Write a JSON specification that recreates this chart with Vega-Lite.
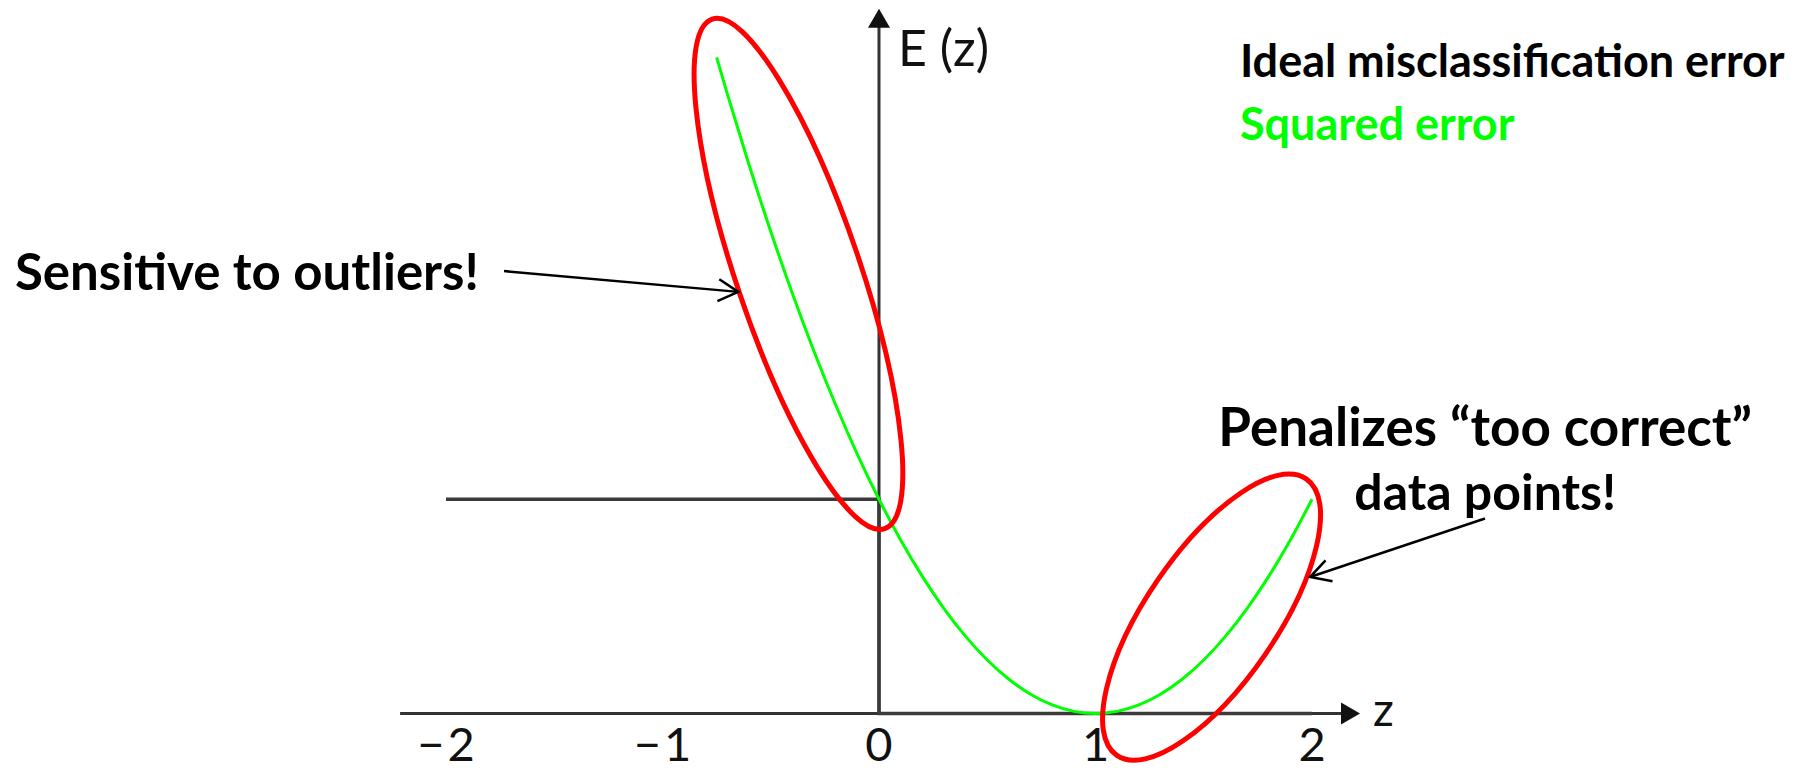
{
  "$schema": "https://vega.github.io/schema/vega-lite/v6.json",
  "autosize": {"type": "fit", "contains": "padding"},
  "width": 1795,
  "height": 771,
  "padding": 0,
  "background": "white",
  "config": {"view": {"stroke": null}},
  "datasets": {
    "squared": [
      {"z": -0.75, "E": 3.0625}, {"z": -0.7, "E": 2.89}, {"z": -0.6, "E": 2.56},
      {"z": -0.5, "E": 2.25}, {"z": -0.4, "E": 1.96}, {"z": -0.3, "E": 1.69},
      {"z": -0.2, "E": 1.44}, {"z": -0.1, "E": 1.21}, {"z": 0.0, "E": 1.0},
      {"z": 0.1, "E": 0.81}, {"z": 0.2, "E": 0.64}, {"z": 0.3, "E": 0.49},
      {"z": 0.4, "E": 0.36}, {"z": 0.5, "E": 0.25}, {"z": 0.6, "E": 0.16},
      {"z": 0.7, "E": 0.09}, {"z": 0.8, "E": 0.04}, {"z": 0.9, "E": 0.01},
      {"z": 1.0, "E": 0.0}, {"z": 1.1, "E": 0.01}, {"z": 1.2, "E": 0.04},
      {"z": 1.3, "E": 0.09}, {"z": 1.4, "E": 0.16}, {"z": 1.5, "E": 0.25},
      {"z": 1.6, "E": 0.36}, {"z": 1.7, "E": 0.49}, {"z": 1.8, "E": 0.64},
      {"z": 1.9, "E": 0.81}, {"z": 2.0, "E": 1.0}
    ],
    "ideal": [
      {"z": -2.0, "E": 1},
      {"z": 0.0, "E": 0},
      {"z": 2.0, "E": 0}
    ],
    "axisLines": [
      {"axis": "z", "z": -2.212, "E": 0, "z2": 2.178, "E2": 0},
      {"axis": "E", "z": 0, "E": 0, "z2": 0, "E2": 3.245}
    ],
    "axisHeads": [
      {"axis": "z", "z": 2.178, "E": 0},
      {"axis": "E", "z": 0, "E": 3.245}
    ],
    "ticks": [
      {"z": -2, "E": -0.222, "label": "−\u200a2"},
      {"z": -1, "E": -0.222, "label": "−\u200a1"},
      {"z": 0, "E": -0.222, "label": "0"},
      {"z": 1, "E": -0.222, "label": "1"},
      {"z": 2, "E": -0.222, "label": "2"}
    ],
    "axisTitles": [
      {"z": 2.33, "E": -0.058, "label": "z", "align": "center"},
      {"z": 0.088, "E": 3.021, "label": "E (z)", "align": "left"}
    ],
    "legendText": [
      {"z": 1.667, "E": 2.97, "label": "Ideal misclassification error", "series": "ideal"},
      {"z": 1.667, "E": 2.679, "label": "Squared error", "series": "squared"}
    ],
    "rings": [
      {"name": "outliers", "z": -0.372, "E": 2.052},
      {"name": "too correct", "z": 1.536, "E": 0.45}
    ],
    "pointers": [
      {"name": "outliers", "z": -1.732, "E": 2.065, "z2": -0.65, "E2": 1.968},
      {"name": "too correct", "z": 2.799, "E": 0.91, "z2": 1.991, "E2": 0.637}
    ],
    "notes": [
      {"name": "outliers", "z": -3.991, "E": 1.977, "label": "Sensitive to outliers!"},
      {"name": "too correct", "z": 2.8, "E": 1.247, "label": "Penalizes “too correct”", "line": 1},
      {"name": "too correct", "z": 2.8, "E": 0.951, "label": "data points!", "line": 2}
    ]
  },
  "encoding": {
    "x": {"field": "z", "type": "quantitative", "axis": null,
          "scale": {"domain": [-4.06, 4.2309], "nice": false, "zero": false}},
    "y": {"field": "E", "type": "quantitative", "axis": null,
          "scale": {"domain": [-0.2309, 3.3303], "nice": false, "zero": false}}
  },
  "layer": [
    {
      "data": {"name": "axisLines"},
      "mark": {"type": "rule", "color": "#333333", "strokeWidth": 3},
      "encoding": {"x2": {"field": "z2"}, "y2": {"field": "E2"}}
    },
    {
      "data": {"name": "axisHeads"},
      "transform": [{"filter": "datum.axis === 'z'"}],
      "mark": {"type": "point", "shape": "triangle-right", "size": 484, "filled": true, "color": "#111111", "opacity": 1}
    },
    {
      "data": {"name": "axisHeads"},
      "transform": [{"filter": "datum.axis === 'E'"}],
      "mark": {"type": "point", "shape": "triangle-up", "size": 484, "filled": true, "color": "#111111", "opacity": 1}
    },
    {
      "data": {"name": "ideal"},
      "mark": {"type": "line", "interpolate": "step-after", "color": "#3a3a3a", "strokeWidth": 3.5}
    },
    {
      "data": {"name": "squared"},
      "mark": {"type": "line", "interpolate": "monotone", "color": "#00ff00", "strokeWidth": 3}
    },
    {
      "data": {"name": "ticks"},
      "mark": {"type": "text", "font": "Lato", "fontSize": 47, "align": "center", "baseline": "alphabetic", "color": "#111111"},
      "encoding": {"text": {"field": "label"}}
    },
    {
      "data": {"name": "axisTitles"},
      "transform": [{"filter": "datum.align === 'center'"}],
      "mark": {"type": "text", "font": "Lato", "fontSize": 46, "align": "center", "baseline": "alphabetic", "color": "#111111"},
      "encoding": {"text": {"field": "label"}}
    },
    {
      "data": {"name": "axisTitles"},
      "transform": [{"filter": "datum.align === 'left'"}],
      "mark": {"type": "text", "font": "Lato", "fontSize": 50, "align": "left", "baseline": "alphabetic", "color": "#111111"},
      "encoding": {"text": {"field": "label"}}
    },
    {
      "data": {"name": "legendText"},
      "mark": {"type": "text", "font": "Lato", "fontWeight": "bold", "fontSize": 45, "align": "left", "baseline": "alphabetic"},
      "encoding": {
        "text": {"field": "label"},
        "color": {"field": "series", "type": "nominal", "legend": null,
                  "scale": {"domain": ["ideal", "squared"], "range": ["#000000", "#00ff00"]}}
      }
    },
    {
      "data": {"name": "rings"},
      "transform": [{"filter": "datum.name === 'outliers'"}],
      "mark": {"type": "point", "filled": false, "opacity": 1, "color": "#ff0000", "strokeWidth": 5,
               "shape": "M 1 0 C 1 0.1273 0.5523 0.2305 0 0.2305 C -0.5523 0.2305 -1 0.1273 -1 0 C -1 -0.1273 -0.5523 -0.2305 0 -0.2305 C 0.5523 -0.2305 1 -0.1273 1 0 Z",
               "size": 289444, "angle": 71.3}
    },
    {
      "data": {"name": "rings"},
      "transform": [{"filter": "datum.name === 'too correct'"}],
      "mark": {"type": "point", "filled": false, "opacity": 1, "color": "#ff0000", "strokeWidth": 5,
               "shape": "M 1 0 C 1 0.2154 0.5523 0.39 0 0.39 C -0.5523 0.39 -1 0.2154 -1 0 C -1 -0.2154 -0.5523 -0.39 0 -0.39 C 0.5523 -0.39 1 -0.2154 1 0 Z",
               "size": 112359, "angle": 124.4}
    },
    {
      "data": {"name": "pointers"},
      "mark": {"type": "rule", "color": "#000000", "strokeWidth": 2.5},
      "encoding": {"x2": {"field": "z2"}, "y2": {"field": "E2"}}
    },
    {
      "data": {"name": "pointers"},
      "transform": [{"filter": "datum.name === 'outliers'"}],
      "mark": {"type": "point", "filled": false, "opacity": 1, "color": "#000000", "strokeWidth": 2.5,
               "shape": "M -1 -0.55 L 0 0 L -1 0.55", "size": 1600, "angle": 5},
      "encoding": {"x": {"field": "z2", "type": "quantitative"}, "y": {"field": "E2", "type": "quantitative"}}
    },
    {
      "data": {"name": "pointers"},
      "transform": [{"filter": "datum.name === 'too correct'"}],
      "mark": {"type": "point", "filled": false, "opacity": 1, "color": "#000000", "strokeWidth": 2.5,
               "shape": "M -1 -0.55 L 0 0 L -1 0.55", "size": 1600, "angle": 161.6},
      "encoding": {"x": {"field": "z2", "type": "quantitative"}, "y": {"field": "E2", "type": "quantitative"}}
    },
    {
      "data": {"name": "notes"},
      "transform": [{"filter": "datum.name === 'outliers'"}],
      "mark": {"type": "text", "font": "Lato", "fontWeight": "bold", "fontSize": 51, "align": "left", "baseline": "alphabetic", "color": "#000000"},
      "encoding": {"text": {"field": "label"}}
    },
    {
      "data": {"name": "notes"},
      "transform": [{"filter": "datum.line === 1"}],
      "mark": {"type": "text", "font": "Lato", "fontWeight": "bold", "fontSize": 53, "align": "center", "baseline": "alphabetic", "color": "#000000"},
      "encoding": {"text": {"field": "label"}}
    },
    {
      "data": {"name": "notes"},
      "transform": [{"filter": "datum.line === 2"}],
      "mark": {"type": "text", "font": "Lato", "fontWeight": "bold", "fontSize": 50, "align": "center", "baseline": "alphabetic", "color": "#000000"},
      "encoding": {"text": {"field": "label"}}
    }
  ]
}
